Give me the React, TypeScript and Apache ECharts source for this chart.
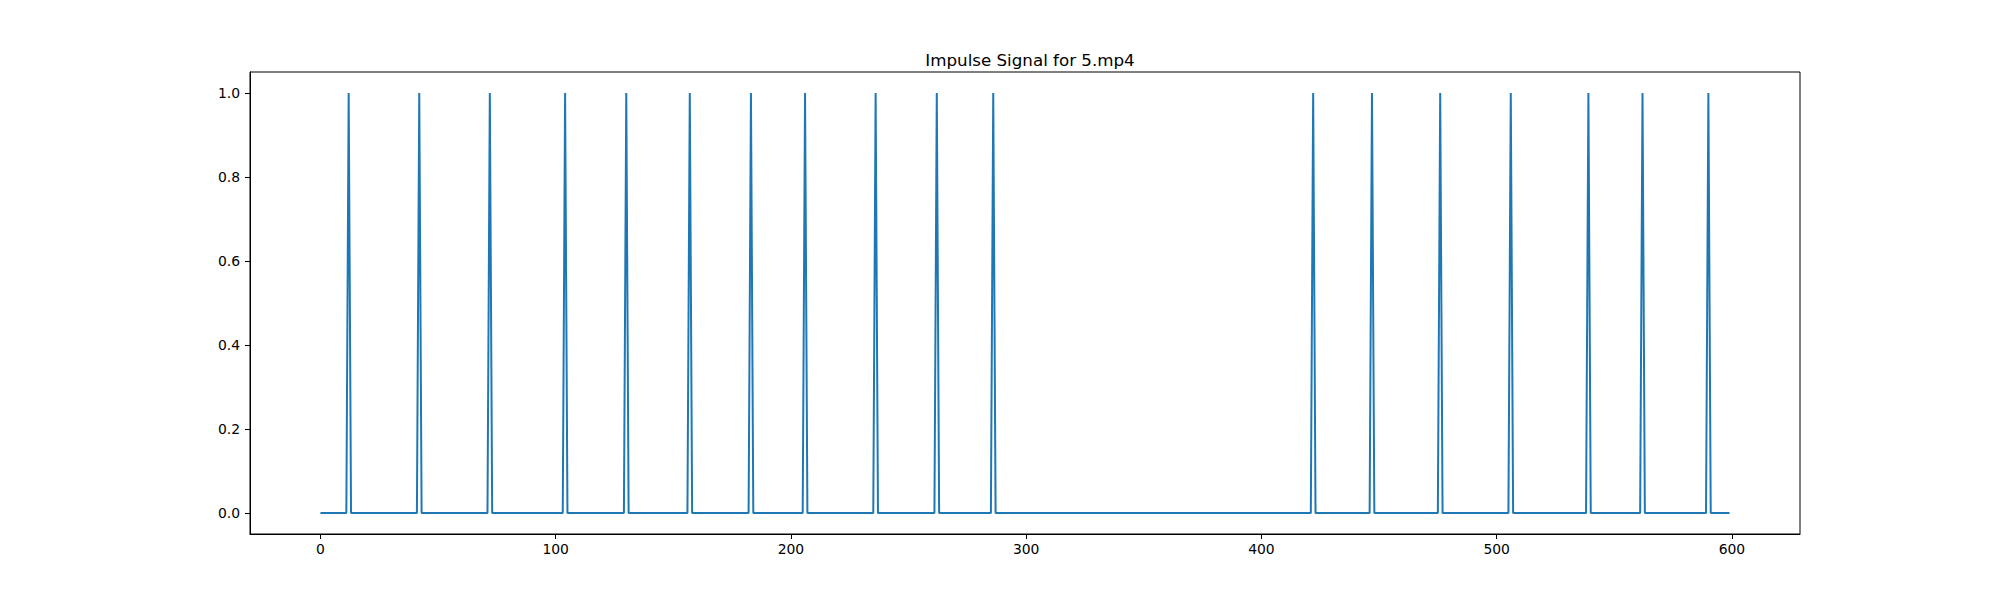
import React, { useEffect, useRef } from "react";
import * as echarts from "echarts";

const TITLE = "Impulse Signal for 5.mp4";
const FRAME_COUNT = 600;
const IMPULSE_FRAMES = [12, 42, 72, 104, 130, 157, 183, 206, 236, 262, 286, 422, 447, 476, 506, 539, 562, 590];
const X_TICKS = [0, 100, 200, 300, 400, 500, 600];
const Y_TICKS = [0, 0.2, 0.4, 0.6, 0.8, 1.0];

export default function App() {
  const ref = useRef<HTMLDivElement>(null);
  useEffect(() => {
    if (!ref.current) return;
    const chart = echarts.init(ref.current, undefined, { renderer: "svg" });
    const impulseSet = new Set(IMPULSE_FRAMES);
    const data: [number, number][] = [];
    for (let i = 0; i < FRAME_COUNT; i++) data.push([i, impulseSet.has(i) ? 1 : 0]);
    const font = "DejaVu Sans";
    const xMargin = (FRAME_COUNT - 1) * 0.05;
    chart.setOption({
      animation: false,
      backgroundColor: "#ffffff",
      title: {
        text: TITLE,
        left: 1025,
        textAlign: "center",
        top: 46,
        textStyle: { fontFamily: font, fontSize: 16.7, fontWeight: "normal", color: "#000" },
      },
      grid: {
        left: 250,
        right: 200,
        top: 72,
        bottom: 66,
        show: true,
        borderColor: "#000",
        borderWidth: 1,
        backgroundColor: "transparent",
      },
      xAxis: {
        type: "value",
        min: -xMargin,
        max: FRAME_COUNT - 1 + xMargin,
        splitLine: { show: false },
        axisLine: { show: true, onZero: false, lineStyle: { color: "#000", width: 1 } },
        axisTick: { show: true, inside: false, length: 5, lineStyle: { color: "#000", width: 1 }, customValues: X_TICKS },
        axisLabel: {
          show: true,
          margin: 8,
          color: "#000",
          fontFamily: font,
          fontSize: 13.9,
          customValues: X_TICKS,
          formatter: (v: number) => String(v),
        },
      },
      yAxis: {
        type: "value",
        min: -0.05,
        max: 1.05,
        splitLine: { show: false },
        axisLine: { show: true, onZero: false, lineStyle: { color: "#000", width: 1 } },
        axisTick: { show: true, inside: false, length: 5, lineStyle: { color: "#000", width: 1 }, customValues: Y_TICKS },
        axisLabel: {
          show: true,
          margin: 10,
          color: "#000",
          fontFamily: font,
          fontSize: 13.9,
          customValues: Y_TICKS,
          formatter: (v: number) => v.toFixed(1),
        },
      },
      series: [
        {
          type: "line",
          data,
          showSymbol: false,
          symbol: "none",
          lineStyle: { color: "#1f77b4", width: 2 },
          itemStyle: { color: "#1f77b4" },
        },
      ],
    });
    return () => chart.dispose();
  }, []);
  return <div ref={ref} style={{ position: "fixed", left: 0, top: 0, width: 2000, height: 600 }} />;
}
